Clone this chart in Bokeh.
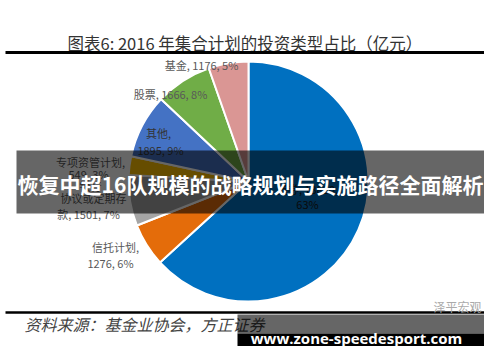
import math
from bokeh.plotting import figure
from bokeh.models import Range1d, ColumnDataSource
from bokeh.core.properties import value
from bokeh.embed import file_html
from bokeh.resources import INLINE

# ---- data ----
categories = ["债券", "信托计划", "银行协议或定期存款", "专项资管计划", "其他", "股票", "基金"]
amounts = [13850, 1276, 1501, 549, 1895, 1666, 1176]
pct_labels = ["63%", "6%", "7%", "3%", "9%", "8%", "5%"]
colors = ["#0070C0", "#E46C0A", "#A5A5A5", "#FFC000", "#4472C4", "#70AD47", "#DA9694"]

title_text = "图表6:  2016 年集合计划的投资类型占比（亿元）"
source_text = "资料来源：基金业协会，方正证券"
banner_text = "恢复中超16队规模的战略规划与实施路径全面解析"
url_text = "www.zone-speedesport.com"
watermark_text = "泽平宏观"

H = 362


def iy(y):
    return H - y


p = figure(width=484, height=346, x_range=Range1d(0, 484), y_range=Range1d(16, 362),
           output_backend="svg", toolbar_location=None, min_border=0)
p.axis.visible = False
p.xgrid.visible = False
p.ygrid.visible = False
p.outline_line_color = None
p.background_fill_color = "white"
p.border_fill_color = "white"

# ---- pie ----
cx, cy, r = 248, iy(181), 120
total = sum(amounts)
starts, ends = [], []
acc = 0.0
for a in amounts:
    starts.append(math.pi / 2 - 2 * math.pi * acc / total)
    acc += a
    ends.append(math.pi / 2 - 2 * math.pi * acc / total)
src = ColumnDataSource(dict(start=starts, end=ends, color=colors))
p.wedge(x=cx, y=cy, radius=r, start_angle="start", end_angle="end", direction="clock",
        fill_color="color", line_color="white", line_width=2, source=src)

# ---- slice labels ----
lab_font = value("Noto Sans CJK SC")
gray = "#595959"
label_lines = [
    (f"{categories[6]}, {amounts[6]}, {pct_labels[6]}", 201, 64, gray),
    (f"{categories[5]}, {amounts[5]}, {pct_labels[5]}", 170, 93, gray),
    (f"{categories[4]},", 158, 132, "#333333"),
    (f"{amounts[4]}, {pct_labels[4]}", 160, 149, "#333333"),
    (f"{categories[3]},", 90, 161, gray),
    (f"{amounts[3]}, {pct_labels[3]}", 88, 173, gray),
    ("银行", 90, 185, gray),
    ("协议或定期存", 93, 197, gray),
    (f"款, {amounts[2]}, {pct_labels[2]}", 88, 213, gray),
    (f"{categories[1]},", 115, 246, gray),
    (f"{amounts[1]}, {pct_labels[1]}", 110, 262, gray),
    (f"{categories[0]}, {amounts[0]},", 307, 188, "#1a1a1a"),
    (pct_labels[0], 307, 203, "#1a1a1a"),
]
ls = ColumnDataSource(dict(
    t=[l[0] for l in label_lines],
    x=[l[1] for l in label_lines],
    y=[iy(l[2]) for l in label_lines],
    c=[l[3] for l in label_lines]))
p.text(x="x", y="y", text="t", text_color="c", text_font=lab_font, text_font_size="11px",
       text_align="center", text_baseline="middle", source=ls)

# ---- title and rules ----
p.text(x=[67], y=[iy(42)], text=[title_text], text_font=value("Noto Sans CJK SC"),
       text_font_size="16.5px", text_color="#333333", text_align="left", text_baseline="middle")
p.segment(x0=[5], y0=[iy(52)], x1=[490], y1=[iy(52)], line_color="black", line_width=3)
p.segment(x0=[5], y0=[iy(312)], x1=[490], y1=[iy(312)], line_color="black", line_width=2.5)
p.text(x=[24], y=[iy(323)], text=[source_text], text_font=value("Noto Sans CJK SC"),
       text_font_size="16px", text_font_style="italic", text_color="#444444",
       text_align="left", text_baseline="middle")
p.text(x=[481], y=[iy(306)], text=[watermark_text], text_font=value("Noto Sans CJK SC"),
       text_font_size="12px", text_color="#aaaaaa", text_align="right", text_baseline="middle")

# ---- overlay banners ----
p.quad(left=[16], right=[484], top=[iy(150)], bottom=[iy(213)], fill_color="black",
       fill_alpha=0.6, line_color=None)
p.text(x=[250], y=[iy(183)], text=[banner_text], text_font=value("Noto Sans CJK SC"),
       text_font_size="21px", text_font_style="bold", text_color="white",
       text_align="center", text_baseline="middle")

p.quad(left=[237], right=[491], top=[iy(314)], bottom=[iy(333)], fill_color="black",
       fill_alpha=0.6, line_color=None)
p.quad(left=[237], right=[491], top=[iy(333)], bottom=[iy(353)], fill_color="black",
       fill_alpha=1.0, line_color=None)
p.text(x=[356], y=[iy(337)], text=[url_text], text_font=value("Open Sans"),
       text_font_size="15px", text_font_style="bold", text_color="white",
       text_align="center", text_baseline="middle")

open("out.html", "w").write(file_html(p, INLINE))
